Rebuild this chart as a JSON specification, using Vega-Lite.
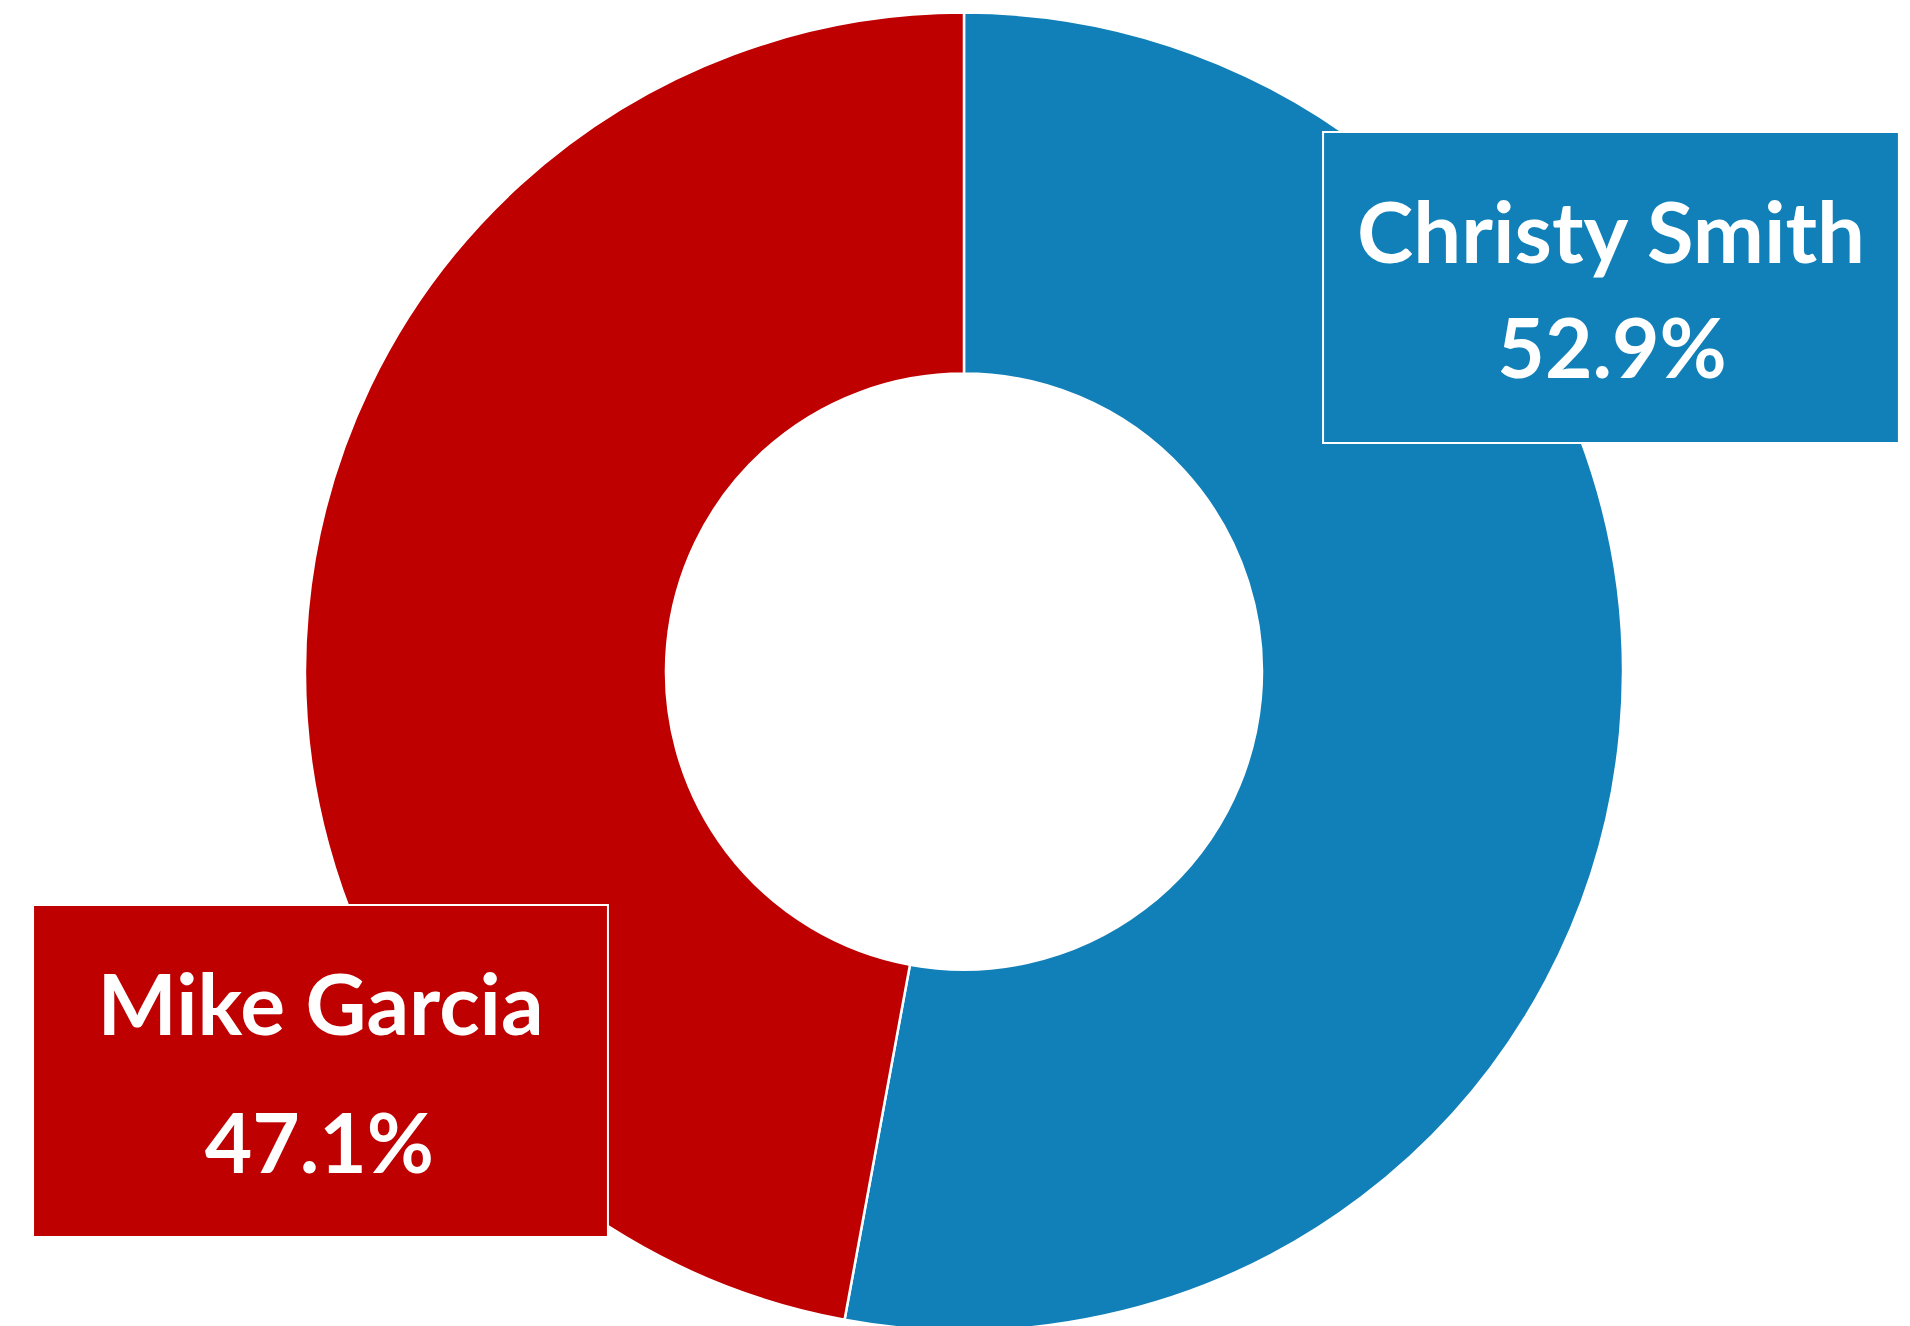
{
  "$schema": "https://vega.github.io/schema/vega-lite/v6.json",
  "width": 1910,
  "height": 1326,
  "autosize": {"type": "none"},
  "padding": 0,
  "background": "white",
  "config": {"view": {"stroke": null}},
  "data": {
    "values": [
      {"candidate": "Christy Smith", "share": 52.9, "label": "52.9%"},
      {"candidate": "Mike Garcia", "share": 47.1, "label": "47.1%"}
    ]
  },
  "layer": [
    {
      "mark": {"type": "arc", "innerRadius": 298, "outerRadius": 659, "stroke": "white", "strokeWidth": 2.5},
      "encoding": {
        "theta": {"field": "share", "type": "quantitative", "stack": true},
        "color": {"field": "candidate", "type": "nominal", "scale": {"domain": ["Christy Smith", "Mike Garcia"], "range": ["#1280B8", "#BF0000"]}, "legend": null},
        "x": {"datum": 50.47, "type": "quantitative", "scale": {"domain": [0, 100], "nice": false, "zero": false}, "axis": null},
        "y": {"datum": 50.65, "type": "quantitative", "scale": {"domain": [0, 100], "nice": false, "zero": false, "reverse": true}, "axis": null}
      }
    },
    {
      "transform": [{"filter": "datum.candidate === 'Christy Smith'"}],
      "mark": {"type": "rect", "stroke": "white", "strokeWidth": 2},
      "encoding": {
        "x": {"datum": 69.27, "type": "quantitative"},
        "x2": {"datum": 99.42},
        "y": {"datum": 9.95, "type": "quantitative"},
        "y2": {"datum": 33.41},
        "color": {"field": "candidate", "type": "nominal", "legend": null}
      }
    },
    {
      "transform": [{"filter": "datum.candidate === 'Mike Garcia'"}],
      "mark": {"type": "rect", "stroke": "white", "strokeWidth": 2},
      "encoding": {
        "x": {"datum": 1.73, "type": "quantitative"},
        "x2": {"datum": 31.83},
        "y": {"datum": 68.25, "type": "quantitative"},
        "y2": {"datum": 93.29},
        "color": {"field": "candidate", "type": "nominal", "legend": null}
      }
    },
    {
      "transform": [{"filter": "datum.candidate === 'Christy Smith'"}],
      "mark": {"type": "text", "font": "Lato", "fontWeight": "bold", "fontSize": 85, "fill": "white", "align": "center", "baseline": "alphabetic"},
      "encoding": {
        "x": {"datum": 84.35, "type": "quantitative"},
        "y": {"datum": 19.83, "type": "quantitative"},
        "text": {"field": "candidate"}
      }
    },
    {
      "transform": [{"filter": "datum.candidate === 'Christy Smith'"}],
      "mark": {"type": "text", "font": "Lato", "fontWeight": "bold", "fontSize": 82, "fill": "white", "align": "center", "baseline": "alphabetic"},
      "encoding": {
        "x": {"datum": 84.4, "type": "quantitative"},
        "y": {"datum": 28.51, "type": "quantitative"},
        "text": {"field": "label"}
      }
    },
    {
      "transform": [{"filter": "datum.candidate === 'Mike Garcia'"}],
      "mark": {"type": "text", "font": "Lato", "fontWeight": "bold", "fontSize": 84, "fill": "white", "align": "center", "baseline": "alphabetic"},
      "encoding": {
        "x": {"datum": 16.78, "type": "quantitative"},
        "y": {"datum": 78.05, "type": "quantitative"},
        "text": {"field": "candidate"}
      }
    },
    {
      "transform": [{"filter": "datum.candidate === 'Mike Garcia'"}],
      "mark": {"type": "text", "font": "Lato", "fontWeight": "bold", "fontSize": 82, "fill": "white", "align": "center", "baseline": "alphabetic"},
      "encoding": {
        "x": {"datum": 16.72, "type": "quantitative"},
        "y": {"datum": 88.46, "type": "quantitative"},
        "text": {"field": "label"}
      }
    }
  ]
}
